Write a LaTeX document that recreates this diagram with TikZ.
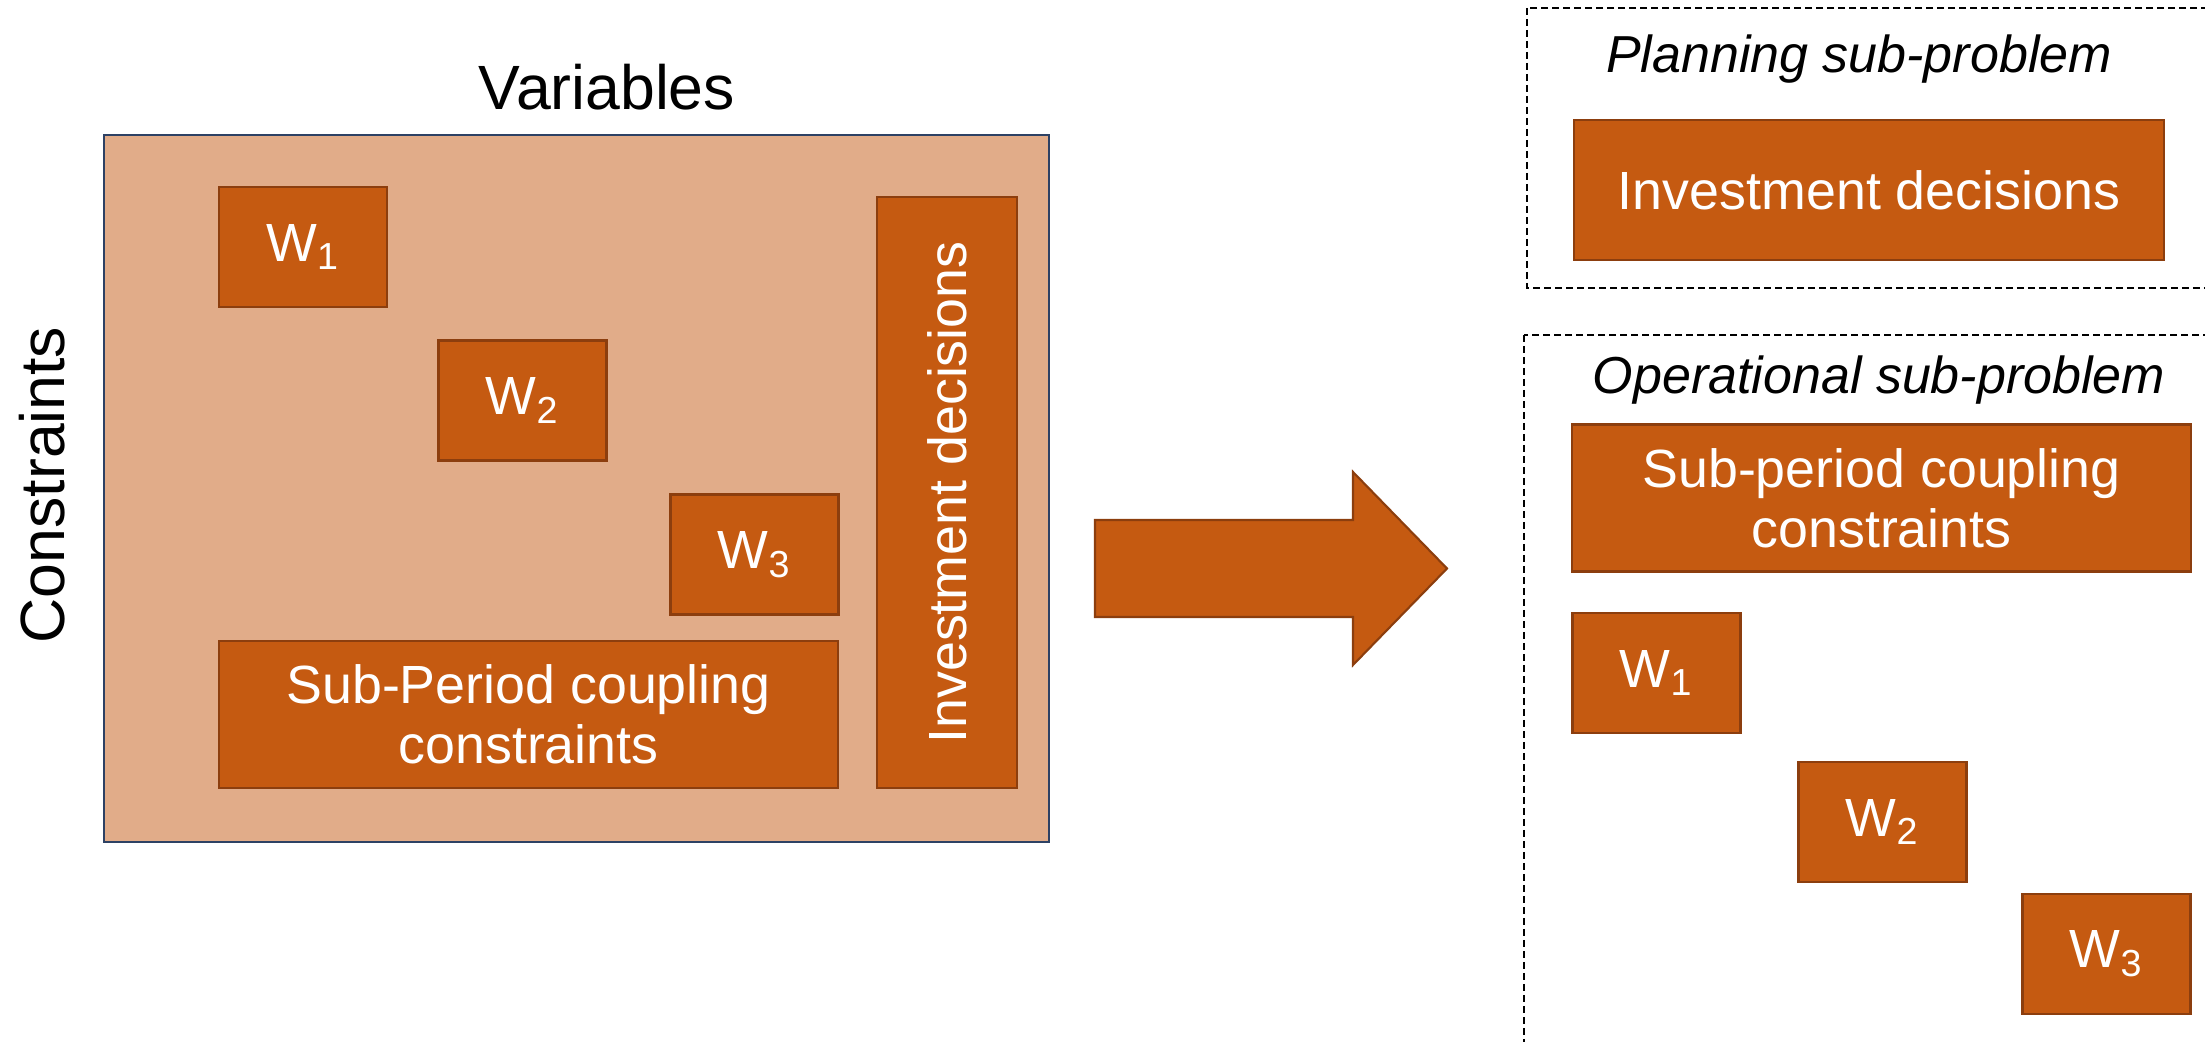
\documentclass[tikz,border=0pt]{standalone}
\usepackage{fontspec}
\setmainfont{Liberation Sans}
\usepackage{xcolor}
\usepackage{tikz}
\usetikzlibrary{positioning}

\definecolor{blkfill}{RGB}{197,90,17}
\definecolor{blkline}{RGB}{140,62,14}
\definecolor{outfill}{RGB}{225,172,137}
\definecolor{outline}{RGB}{45,65,100}

\begin{document}
\begin{tikzpicture}[x=0.1mm,y=-0.1mm,
    blk/.style={draw=blkline,fill=blkfill,line width=0.6pt,text=white,
      inner sep=0pt,align=center,font=\fontsize{15.3}{17}\selectfont},
    wbox/.style={blk,minimum width=16.8mm,minimum height=12mm},
    cbox/.style={blk,minimum width=61.9mm,minimum height=14.7mm},
    outer/.style={draw=outline,fill=outfill,line width=0.6pt,inner sep=0pt},
    dashbox/.style={draw=black,line width=0.5pt,dash pattern=on 0.7mm off 0.4mm},
    lbl/.style={font=\fontsize{17.8}{20}\selectfont,inner sep=0pt},
    ttl/.style={font=\fontsize{14.8}{17}\selectfont\itshape,inner sep=0pt}]
  \useasboundingbox (0,0) rectangle (2205,1042);

  % left: full problem
  \node[lbl] (vars) at (607,87) {Variables};
  \node[outer,minimum width=94.5mm,minimum height=70.7mm] (full) at (576.5,488.5) {};
  \node[lbl,rotate=90] (cons) at (42,485) {Constraints};
  \node[wbox] (w1) at (303,247) {W\textsubscript{1}};
  \node[wbox] (w2) at (522.5,400.5) {W\textsubscript{2}};
  \node[wbox] (w3) at (754.5,554.5) {W\textsubscript{3}};
  \node[cbox] (cpl) at (528.5,714.5) {Sub-Period coupling\\constraints};
  \node[blk,minimum width=14mm,minimum height=59.1mm] (inv) at (947,492.5) {};
  \node[rotate=90,text=white,font=\fontsize{15.3}{17}\selectfont] at (inv.center) {Investment decisions};

  % arrow
  \draw[blkline,fill=blkfill,line width=0.6pt] (1095,520) -- (1353,520) -- (1353,472)
    -- (1447,568.5) -- (1353,665) -- (1353,617) -- (1095,617) -- cycle;

  % right: decomposition
  \draw[dashbox] (1527,8) rectangle (2220,288);
  \node[ttl] (plan) at (1859,59) {Planning sub-problem};
  \node[blk,minimum width=59mm,minimum height=14mm] (invP) at (1869,190) {Investment decisions};

  \draw[dashbox] (1524,335) rectangle (2220,1060);
  \node[ttl] (oper) at (1879,380) {Operational sub-problem};
  \node[cbox] (cplO) at (1881.5,498) {Sub-period coupling\\constraints};
  \node[wbox] (w1O) at (1656.5,673) {W\textsubscript{1}};
  \node[wbox] (w2O) at (1882.5,822) {W\textsubscript{2}};
  \node[wbox] (w3O) at (2106.5,954) {W\textsubscript{3}};
\end{tikzpicture}
\end{document}
